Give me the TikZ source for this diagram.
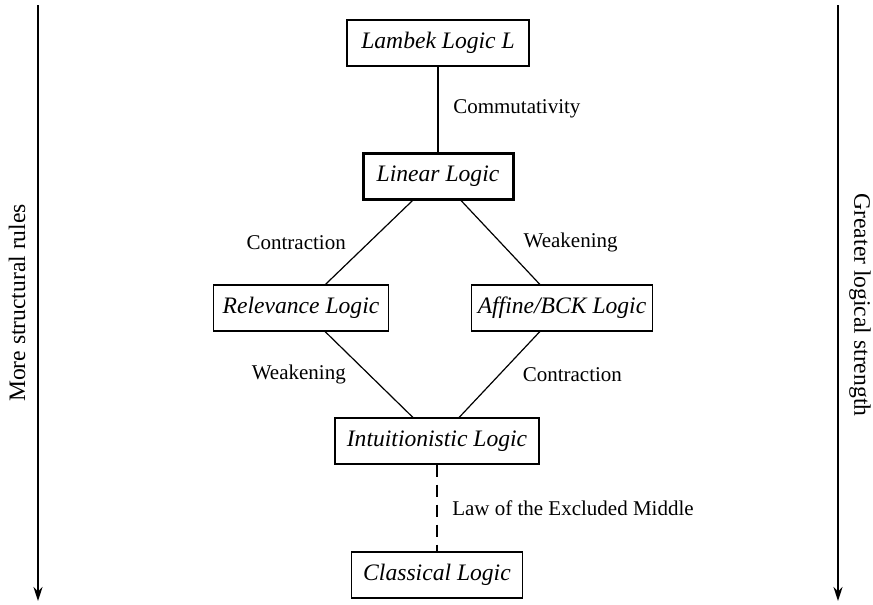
\documentclass[tikz,border=0pt]{standalone}
\usepackage{fontspec}
\setmainfont{Liberation Serif}
\usetikzlibrary{arrows.meta}
\begin{document}
\begin{tikzpicture}[x=0.5pt,y=-0.5pt,
        logic/.style={draw=black, line width=0.6pt, minimum height=23pt, inner xsep=3pt, font=\fontsize{11.8}{14}\selectfont\itshape},
        rule/.style={draw=black, line width=0.6pt},
        rulelabel/.style={font=\fontsize{10.5}{12.6}\selectfont},
        sidearrow/.style={draw=black, line width=1pt, -{Stealth[length=7pt,width=4.5pt]}},
        sidelabel/.style={font=\fontsize{11.8}{14}\selectfont}]
    \useasboundingbox (0,0) rectangle (873,605);
    % logics
    \node[logic, minimum width=91pt] (lambek) at (438,43) {Lambek Logic L};
    \node[logic, minimum width=75pt, line width=1.5pt] (linear) at (438,176) {Linear Logic};
    \node[logic, minimum width=87.5pt] (relevance) at (301,308) {Relevance Logic};
    \node[logic, minimum width=89pt] (affine) at (562,308) {Affine/BCK Logic};
    \node[logic, minimum width=102pt] (intuit) at (437,441) {Intuitionistic Logic};
    \node[logic, minimum width=85.5pt] (classical) at (437,575) {Classical Logic};
    % rules
    \draw[rule] (lambek) -- (linear) node[rulelabel, midway, right=4pt] {Commutativity};
    \draw[rule] (linear) -- (relevance) node[rulelabel, midway, left=8pt] {Contraction};
    \draw[rule] (linear) -- (affine) node[rulelabel, midway, right=8pt] {Weakening};
    \draw[rule] (relevance) -- (intuit) node[rulelabel, midway, left=8pt] {Weakening};
    \draw[rule] (affine) -- (intuit) node[rulelabel, midway, right=8pt] {Contraction};
    \draw[rule, dashed, dash pattern=on 6pt off 4pt] (intuit) -- (classical) node[rulelabel, midway, right=4pt] {Law of the Excluded Middle};
    % side arrows
    \coordinate (ltop) at (38,5);
    \coordinate (lbot) at (38,601);
    \coordinate (rtop) at (838,5);
    \coordinate (rbot) at (838,601);
    \draw[sidearrow] (ltop) -- (lbot);
    \draw[sidearrow] (rtop) -- (rbot);
    \node[sidelabel, rotate=90] (more) at (17,303) {More structural rules};
    \node[sidelabel, rotate=-90] (greater) at (860,305) {Greater logical strength};
\end{tikzpicture}
\end{document}
